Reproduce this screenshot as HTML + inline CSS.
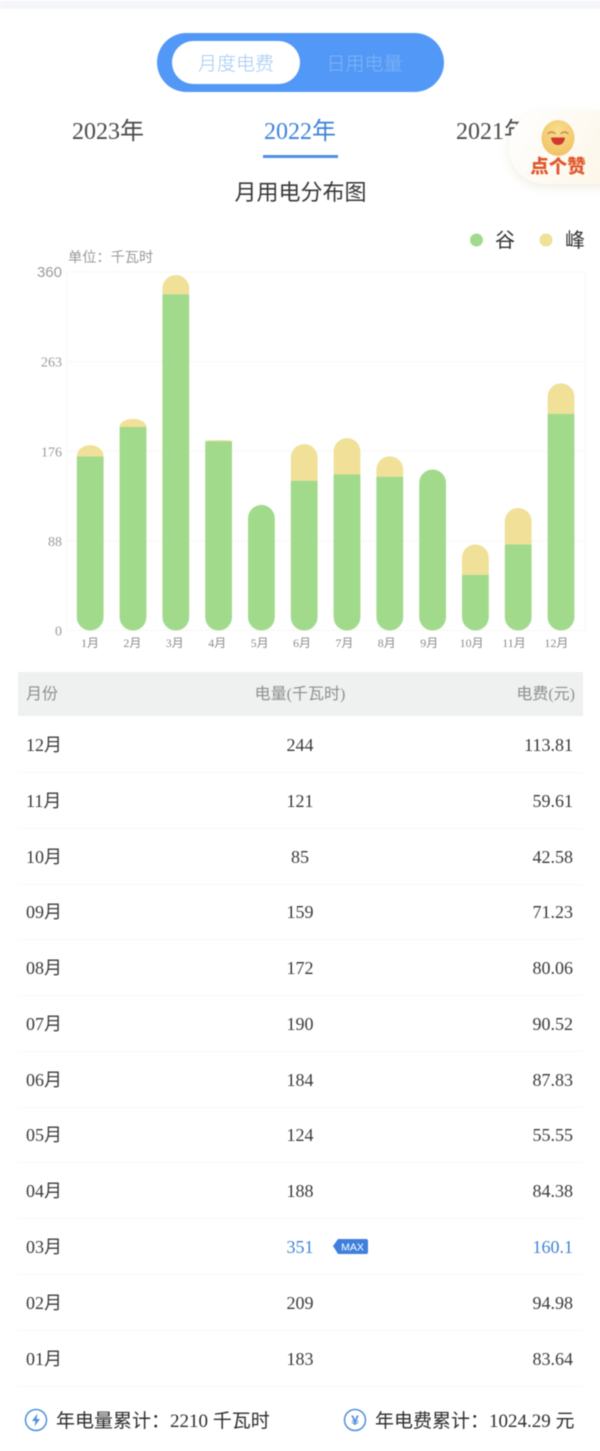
<!DOCTYPE html>
<html lang="zh-CN">
<head>
<meta charset="utf-8">
<title>月用电分布图</title>
<style>
html,body{margin:0;padding:0;background:#fff;}
body{width:600px;height:1451px;position:relative;overflow:hidden;font-family:"Liberation Serif","Noto Sans CJK SC",serif;color:#333;}
#page{position:absolute;left:0;top:0;width:600px;height:1451px;filter:blur(0.5px);}
.abs{position:absolute;white-space:nowrap;}
.sans{font-family:"Liberation Sans","Noto Sans CJK SC",sans-serif;}
.year{top:117px;font-size:24px;line-height:30px;color:#4b4b4b;width:120px;text-align:center;}
.row{position:absolute;left:18px;width:565px;height:55px;border-bottom:1px solid #f7f7f7;font-size:18px;line-height:58px;color:#3a3a3a;}
.row .m{position:absolute;left:8px;top:-1px;}
.row .v{position:absolute;left:182px;width:200px;text-align:center;top:-1px;}
.row .f{position:absolute;right:10px;top:-1px;}
.row.hi .v,.row.hi .f{color:#3f83d6;}
.th{top:672px;height:44px;line-height:45px;font-size:16px;color:#8e8e8e;}
</style>
</head>
<body>
<div id="page">
  <div class="abs" style="left:0;top:1px;width:600px;height:8px;background:#f5f6f9"></div>

  <div class="abs" style="left:157px;top:33px;width:287px;height:59px;border-radius:30px;background:#5298f6"></div>
  <div class="abs sans" style="left:172px;top:41px;width:128px;height:43px;border-radius:22px;background:#fff;text-align:center;font-size:19px;line-height:48px;color:#a0c7f4;font-weight:300">月度电费</div>
  <div class="abs sans" style="left:300px;top:41px;width:129px;height:43px;text-align:center;font-size:19px;line-height:48px;color:#84b6f8;font-weight:300">日用电量</div>

  <div class="abs year" style="left:48px">2023年</div>
  <div class="abs year" style="left:240px;color:#3f83d6">2022年</div>
  <div class="abs year" style="left:432px">2021年</div>
  <div class="abs" style="left:263px;top:155px;width:75px;height:3px;background:#4e90e4"></div>

  <div class="abs" style="left:509px;top:111px;width:100px;height:73px;border-radius:36px 0 0 36px;background:linear-gradient(120deg,#ffffff,#fdf6e8);box-shadow:0 3px 10px rgba(170,140,90,.16)">
    <svg width="100" height="50" style="position:absolute;left:0;top:0">
      <defs><radialGradient id="fg" cx="50%" cy="30%" r="70%"><stop offset="0" stop-color="#f9dd8c"/><stop offset="1" stop-color="#f0c266"/></radialGradient></defs>
      <ellipse cx="49" cy="27" rx="16.5" ry="18" fill="url(#fg)"/>
      <path d="M39 22.500q3.500-3 7 0M52 22.500q3.500-3 7 0" fill="none" stroke="#b8804a" stroke-width="1.200" stroke-linecap="round"/>
      <path d="M42 26.500h14q-1 7.500-7 7.500t-7-7.500z" fill="#cf3a30"/>
    </svg>
    <div class="abs sans" style="left:18px;top:43.500px;width:62px;text-align:center;font-size:18.500px;line-height:24px;font-weight:900;color:#e0592e;letter-spacing:0">点个赞</div>
  </div>

  <div class="abs sans" style="left:200px;top:177px;width:201px;text-align:center;font-size:22px;line-height:32px;color:#383838">月用电分布图</div>

  <svg id="chart" class="abs" style="left:0;top:225px" width="600" height="430" viewBox="0 225 600 430"></svg>

  <div class="abs" style="left:18px;top:672px;width:565px;height:44px;background:#eff1f0"></div>
  <div class="abs th sans" style="left:26px">月份</div>
  <div class="abs th" style="left:200px;width:200px;text-align:center">电量(千瓦时)</div>
  <div class="abs th" style="right:25px">电费(元)</div>

  <div class="row" style="top:717px"><span class="m">12月</span><span class="v">244</span><span class="f">113.81</span></div>
  <div class="row" style="top:773px"><span class="m">11月</span><span class="v">121</span><span class="f">59.61</span></div>
  <div class="row" style="top:829px"><span class="m">10月</span><span class="v">85</span><span class="f">42.58</span></div>
  <div class="row" style="top:884px"><span class="m">09月</span><span class="v">159</span><span class="f">71.23</span></div>
  <div class="row" style="top:940px"><span class="m">08月</span><span class="v">172</span><span class="f">80.06</span></div>
  <div class="row" style="top:996px"><span class="m">07月</span><span class="v">190</span><span class="f">90.52</span></div>
  <div class="row" style="top:1052px"><span class="m">06月</span><span class="v">184</span><span class="f">87.83</span></div>
  <div class="row" style="top:1107px"><span class="m">05月</span><span class="v">124</span><span class="f">55.55</span></div>
  <div class="row" style="top:1163px"><span class="m">04月</span><span class="v">188</span><span class="f">84.38</span></div>
  <div class="row hi" style="top:1219px"><span class="m">03月</span><span class="v">351</span><span class="f">160.1</span></div>
  <div class="row" style="top:1275px"><span class="m">02月</span><span class="v">209</span><span class="f">94.98</span></div>
  <div class="row" style="top:1331px"><span class="m">01月</span><span class="v">183</span><span class="f">83.64</span></div>

  <svg class="abs" style="left:332px;top:1238px" width="37" height="17">
    <path d="M1 8L6 1H34q2 0 2 2V14q0 2-2 2H6z" fill="#3f80dd"/>
    <text x="20.500" y="12.500" text-anchor="middle" font-family="Liberation Sans" font-size="10.500" fill="#fff">MAX</text>
  </svg>

  <svg class="abs" style="left:24px;top:1408px" width="24" height="24">
    <circle cx="12" cy="12" r="10.500" fill="none" stroke="#4e8fdc" stroke-width="1.500"/>
    <path d="M13.500 5.500L8 13h3.500l-1 5.500L16 11h-3.500z" fill="#4e8fdc"/>
  </svg>
  <div class="abs" style="left:56px;top:1407.500px;font-size:19px;line-height:28px;color:#2e2e2e">年电量累计：2210 千瓦时</div>

  <svg class="abs" style="left:343px;top:1408px" width="24" height="24">
    <circle cx="12" cy="12" r="10.500" fill="none" stroke="#4e8fdc" stroke-width="1.500"/>
    <text x="12" y="17" text-anchor="middle" font-family="Liberation Sans" font-size="14" font-weight="700" fill="#4e8fdc">¥</text>
  </svg>
  <div class="abs" style="left:375px;top:1407.500px;font-size:19px;line-height:28px;color:#2e2e2e">年电费累计：1024.29 元</div>
</div>

<script>
const months = ['1月','2月','3月','4月','5月','6月','7月','8月','9月','10月','11月','12月'];
const valleyValues = [172,201,332,187,124,148,154,152,159,55,85,214];
const peakValues = [11,8,19,1,0,36,36,20,0,30,36,30];
const tickLabels = ['0','88','176','263','360'];
const legendLabels = ['谷','峰'];

const SVG_NS = 'http://www.w3.org/2000/svg';
const chart = document.getElementById('chart');
const AXIS_MAX = 354;
const PLOT = {left:66.5,right:585.5,top:272,bottom:630.5};
const BAR_W = 26.8;
const COLORS = {valley:'#a2da8c',peak:'#f0e098'};

function yScale(v){return PLOT.bottom-(v/AXIS_MAX)*(PLOT.bottom-PLOT.top);}
function barCenter(i){return 90.2+i*42.8;}
function labelCenter(i){return 90+i*42.4;}
function tickY(i){return PLOT.bottom-i*(PLOT.bottom-PLOT.top)/(tickLabels.length-1);}
function make(tag,attrs,text){
  const el=document.createElementNS(SVG_NS,tag);
  for(const k in attrs){el.setAttribute(k,attrs[k]);}
  if(text!==undefined){el.textContent=text;}
  chart.appendChild(el);
  return el;
}
function barPath(x,yTop,yBottom,roundTop,roundBottom){
  const w=BAR_W,rx=w/2,h=yBottom-yTop;
  const rt=roundTop?Math.min(rx,h):0;
  const rb=roundBottom?rx:0;
  let d='M'+x+' '+(yBottom-rb);
  d+=' V'+(yTop+rt);
  if(rt>0){d+=' A'+rx+' '+rt+' 0 0 1 '+(x+w)+' '+(yTop+rt);}
  else{d+=' H'+(x+w);}
  d+=' V'+(yBottom-rb);
  if(rb>0){d+=' A'+rx+' '+rb+' 0 0 1 '+x+' '+(yBottom-rb);}
  d+=' Z';
  return d;
}

tickLabels.forEach(function(label,i){
  const y=tickY(i);
  const line=make('line',{x1:PLOT.left,x2:PLOT.right,y1:y,y2:y,stroke:'#f7f7f7','stroke-width':1});
  
  
  const isTop=i===tickLabels.length-1;
  const t=make('text',{x:62,y:y+5,'text-anchor':'end','font-size':isTop?15:14,fill:'#9a9a9a','font-family':isTop?'Liberation Sans':'Liberation Serif'},label);
  
  
});
const axisLeft=make('line',{x1:PLOT.left,x2:PLOT.left,y1:PLOT.top,y2:PLOT.bottom,stroke:'#f7f7f7','stroke-width':1});


const axisRight=make('line',{x1:PLOT.right,x2:PLOT.right,y1:PLOT.top,y2:PLOT.bottom,stroke:'#f7f7f7','stroke-width':1});



const unit=make('text',{x:68,y:262,'font-size':14.2,fill:'#9a9a9a','font-family':'Liberation Sans, Noto Sans CJK SC, sans-serif'},'单位：千瓦时');



months.forEach(function(m,i){
  const cx=barCenter(i),x=cx-BAR_W/2;
  const v=valleyValues[i],p=peakValues[i];
  const yV=yScale(v),yT=yScale(v+p);
  const valley=make('path',{d:barPath(x,yV,PLOT.bottom,p===0,true),fill:COLORS.valley});
  
  
  if(p>0){
    const peak=make('path',{d:barPath(x,yT,yV,true,false),fill:COLORS.peak});
    
    
  }
  const label=make('text',{x:labelCenter(i),y:647,'text-anchor':'middle','font-size':12,fill:'#8c8c8c','font-family':'Liberation Serif, Noto Sans CJK SC, serif'},m);
  
  
});

const dotValley=make('circle',{cx:476.5,cy:240,r:6.5,fill:COLORS.valley});


const textValley=make('text',{x:495,y:247,'font-size':20,fill:'#333','font-family':'Noto Sans CJK SC, sans-serif'},legendLabels[0]);


const dotPeak=make('circle',{cx:546,cy:240,r:6.5,fill:COLORS.peak});


const textPeak=make('text',{x:565,y:247,'font-size':20,fill:'#333','font-family':'Noto Sans CJK SC, sans-serif'},legendLabels[1]);


</script>
</body>
</html>
